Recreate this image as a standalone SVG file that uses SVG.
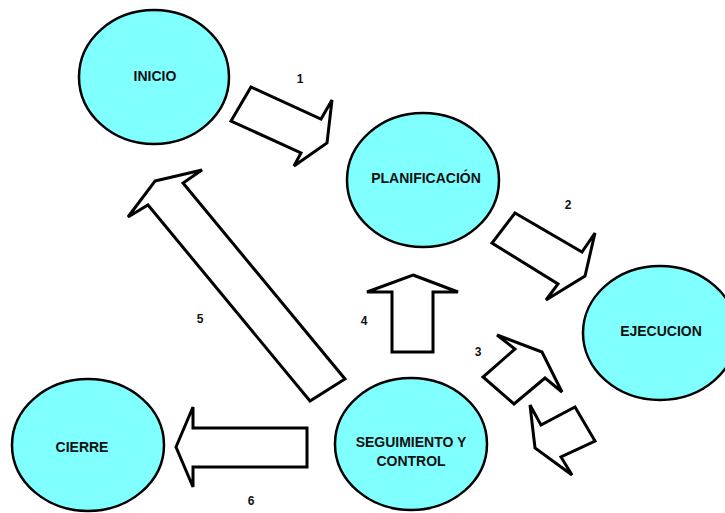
<svg xmlns="http://www.w3.org/2000/svg" width="725" height="513" viewBox="0 0 725 513">
<style>
.node{fill:#80ffff;stroke:#000;stroke-width:2.5}
.lbl{font-family:"Liberation Sans",Arial,sans-serif;font-weight:bold;font-size:14px;fill:#111;text-anchor:middle}
.num{font-family:"Liberation Sans",Arial,sans-serif;font-weight:bold;font-size:12px;fill:#111;text-anchor:middle}
.arr{fill:#fff;stroke:#000;stroke-width:3;stroke-linejoin:miter}
</style>
<rect width="725" height="513" fill="#fff"/>
<g id="connectors">
<polygon class="arr" points="251,87 321,119 332,100 327,143 294,166 301,153 231,121"/>
<polygon class="arr" points="515,213 582,252 595,233 585,276 546,300 558,284 492,243"/>
<polygon class="arr" points="497,335 542,352 562,392 545,378 514,404 483,377 515,349"/>
<polygon class="arr" points="530,405 541,425 575,407 595,441 561,457 572,475 535,448"/>
<polygon class="arr" points="413,275 458,292 433,292 433,352 392,352 392,292 367,292"/>
<polygon class="arr" points="155,181 202,170 183,183 345,379 310,401 148,205 128,217"/>
<polygon class="arr" points="176,447 193,407 193,428 307,428 307,467 193,467 193,487"/>
<text class="num" x="300" y="83">1</text>
<text class="num" x="568" y="209">2</text>
<text class="num" x="478" y="356">3</text>
<text class="num" x="364" y="325">4</text>
<text class="num" x="200" y="323">5</text>
<text class="num" x="251" y="505">6</text>
</g>
<g id="inicio">
<ellipse class="node" cx="154" cy="77" rx="75" ry="67"/>
<text class="lbl" x="155" y="81">INICIO</text>
</g>
<g id="planificacion">
<ellipse class="node" cx="423" cy="180" rx="76" ry="67"/>
<text class="lbl" x="426" y="183">PLANIFICACIÓN</text>
</g>
<g id="ejecucion">
<ellipse class="node" cx="660" cy="333" rx="77" ry="67"/>
<text class="lbl" x="661" y="336">EJECUCION</text>
</g>
<g id="cierre">
<ellipse class="node" cx="88" cy="445" rx="76" ry="66"/>
<text class="lbl" x="82" y="452">CIERRE</text>
</g>
<g id="seguimiento">
<ellipse class="node" cx="411" cy="444" rx="76" ry="66"/>
<text class="lbl" x="411" y="447">SEGUIMIENTO Y</text>
<text class="lbl" x="411" y="466">CONTROL</text>
</g>
</svg>
